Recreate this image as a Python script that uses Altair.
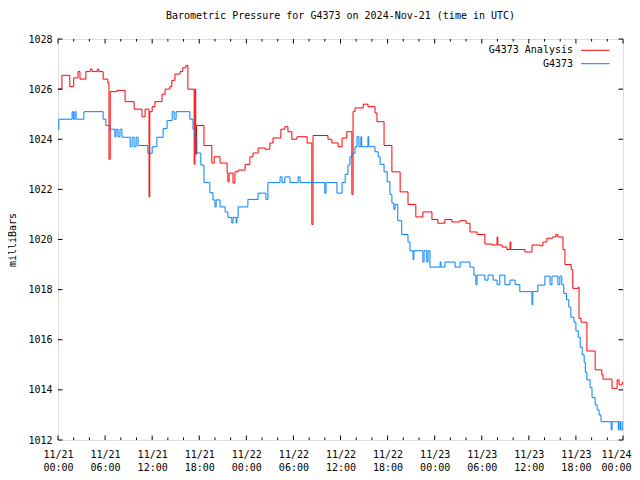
import altair as alt
import pandas as pd

TITLE = "Barometric Pressure for G4373 on 2024-Nov-21 (time in UTC)"
Y_TITLE = "milliBars"
SERIES = ["G4373 Analysis", "G4373"]
COLORS = ["#ff0000", "#0080ff"]
FONT = "DejaVu Sans Mono"

# hours since 2024-11-21 00:00 UTC and pressure (mbar), step series
analysis_hours = [
    0, 0.5, 1.5, 2.0, 2.55, 2.8, 3.55, 4.1, 4.35, 5.0,
    5.2, 5.75, 6.35, 6.5, 6.65, 7.5, 8.55, 9.7, 10.7, 11.1,
    11.6, 11.7, 12.0, 12.35, 13.25, 13.65, 14.25, 14.5, 14.9, 15.55,
    15.9, 16.3, 16.55, 17.35, 17.45, 17.55, 17.65, 18.6, 19.6, 19.9,
    20.65, 21.55, 21.65, 21.8, 22.3, 22.55, 22.95, 23.85, 24.45, 24.85,
    25.5, 26.4, 27.0, 27.4, 28.4, 28.9, 29.3, 29.8, 30.45, 31.75,
    32.35, 32.5, 34.4, 34.9, 35.7, 36.2, 36.8, 37.45, 37.6, 37.85,
    38.9, 39.5, 40.4, 40.65, 41.55, 42.55, 43.6, 44.6, 45.6, 46.5,
    47.65, 48.4, 49.3, 50.2, 51.2, 52.0, 52.5, 53.4, 54.4, 55.3,
    55.95, 56.05, 56.6, 57.2, 57.6, 57.7, 59.5, 60.4, 61.4, 61.8,
    62.3, 63.0, 63.45, 63.7, 64.35, 64.6, 65.4, 65.6, 66.3, 66.4,
    66.65, 67.4, 68.45, 69.3, 69.45, 70.6, 71.25, 71.5, 71.9, 72,
]
analysis_mbar = [
    1026.0, 1026.55, 1026.1, 1026.45, 1026.7, 1026.4, 1026.7, 1026.8, 1026.7, 1026.8,
    1026.7, 1026.4, 1026.25, 1023.2, 1025.9, 1025.95, 1025.5, 1025.2, 1024.9, 1025.2,
    1021.7, 1025.1, 1025.3, 1025.5, 1025.8, 1026.0, 1026.1, 1026.35, 1026.6, 1026.7,
    1026.85, 1026.95, 1026.0, 1023.0, 1026.0, 1023.4, 1024.55, 1023.75, 1023.05, 1023.3,
    1023.05, 1022.65, 1022.3, 1022.65, 1022.25, 1022.7, 1022.77, 1023.0, 1023.3, 1023.45,
    1023.65, 1023.6, 1023.85, 1024.05, 1024.4, 1024.5, 1024.3, 1024.0, 1024.1, 1023.85,
    1020.6, 1024.15, 1024.0, 1023.85, 1023.7, 1024.05, 1024.3, 1021.8, 1025.1, 1025.25,
    1025.4, 1025.3, 1025.05, 1024.7, 1023.75, 1022.7, 1021.9, 1021.4, 1020.9, 1021.1,
    1020.8, 1020.65, 1020.8, 1020.7, 1020.75, 1020.65, 1020.3, 1020.2, 1019.82, 1019.78,
    1020.1, 1019.78, 1019.7, 1019.6, 1019.9, 1019.6, 1019.5, 1019.78, 1019.75, 1019.9,
    1020.05, 1020.1, 1020.2, 1020.1, 1019.6, 1019.0, 1018.8, 1018.05, 1018.1, 1016.85,
    1016.7, 1015.55, 1014.8, 1014.6, 1014.43, 1014.06, 1014.4, 1014.2, 1014.3, 1014.3,
]

station_hours = [
    0, 0.1, 1.8, 1.95, 2.15, 2.3, 3.3, 5.75, 6.1, 6.6,
    7.25, 7.4, 7.65, 7.9, 8.15, 9.2, 9.45, 9.7, 9.95, 10.2,
    11.45, 12.0, 12.6, 13.4, 13.9, 14.55, 14.8, 15.05, 16.8, 17.2,
    17.45, 17.7, 18.2, 18.6, 19.35, 19.75, 20.0, 20.15, 20.65, 21.3,
    21.65, 22.15, 22.3, 22.7, 22.8, 22.95, 24.2, 25.5, 26.5, 26.75,
    28.3, 28.55, 28.9, 29.55, 30.6, 30.85, 34.0, 34.15, 35.55, 36.2,
    36.6, 36.95, 37.2, 37.45, 37.85, 38.1, 38.35, 38.6, 38.7, 39.5,
    39.6, 40.4, 40.8, 41.05, 41.55, 41.95, 42.3, 42.55, 42.8, 42.95,
    43.3, 43.8, 44.6, 44.85, 45.25, 45.35, 46.5, 46.65, 47.0, 47.15,
    47.4, 48.7, 48.8, 49.3, 50.6, 51.25, 52.5, 53.0, 53.25, 53.4,
    54.4, 54.8, 55.45, 55.95, 56.3, 56.95, 57.6, 58.25, 58.85, 60.4,
    60.5, 61.15, 62.05, 62.7, 62.95, 63.7, 63.95, 64.2, 64.45, 64.8,
    65.1, 65.35, 65.75, 66.0, 66.3, 66.55, 66.8, 67.05, 67.2, 67.4,
    67.8, 68.05, 68.45, 68.7, 68.95, 69.2, 70.5, 70.6, 71.4, 71.5,
    71.7, 71.9, 72,
]
station_mbar = [
    1024.4, 1024.8, 1025.1, 1024.8, 1025.1, 1024.8, 1025.1, 1024.8, 1024.55, 1024.4,
    1024.1, 1024.4, 1024.1, 1024.4, 1024.08, 1023.7, 1024.08, 1023.7, 1024.08, 1023.75,
    1023.44, 1023.7, 1024.08, 1024.43, 1024.75, 1025.1, 1024.8, 1025.1, 1024.8, 1024.4,
    1024.08, 1023.45, 1022.97, 1022.27, 1021.87, 1021.58, 1021.3, 1021.58, 1021.3, 1021.1,
    1020.88, 1020.66, 1020.88, 1020.66, 1020.88, 1021.3, 1021.6, 1021.85, 1021.6, 1022.27,
    1022.5, 1022.27, 1022.5, 1022.27, 1022.5, 1022.27, 1021.85, 1022.27, 1021.85, 1022.27,
    1022.6, 1022.97, 1023.3, 1023.44, 1023.7, 1024.1, 1023.7, 1024.1, 1023.7, 1024.1,
    1023.7, 1023.5, 1023.3, 1023.0, 1022.7, 1022.3, 1021.8, 1021.45, 1021.2, 1021.4,
    1020.75, 1020.2, 1019.9, 1019.55, 1019.2, 1019.55, 1019.1, 1019.55, 1019.1, 1019.55,
    1018.9, 1019.1, 1018.9, 1019.1, 1018.9, 1019.1, 1018.9, 1018.58, 1018.2, 1018.58,
    1018.38, 1018.58, 1018.38, 1018.2, 1018.58, 1018.2, 1018.38, 1018.2, 1017.92, 1017.4,
    1017.92, 1018.18, 1018.54, 1018.2, 1018.54, 1018.2, 1018.54, 1018.2, 1017.85, 1017.6,
    1017.3, 1016.9, 1016.7, 1016.35, 1016.1, 1015.7, 1015.4, 1015.1, 1014.7, 1014.4,
    1014.1, 1013.7, 1013.4, 1013.2, 1013.0, 1012.73, 1012.4, 1012.73, 1012.4, 1012.73,
    1012.4, 1012.73, 1012.73,
]

major_hours = [0, 6, 12, 18, 24, 30, 36, 42, 48, 54, 60, 66, 72]
minor_hours = [2, 4, 8, 10, 14, 16, 20, 22, 26, 28, 32, 34, 38, 40, 44, 46, 50, 52, 56, 58, 62, 64, 68, 70]
y_ticks = [1012, 1014, 1016, 1018, 1020, 1022, 1024, 1026, 1028]

assert len(analysis_hours) == len(analysis_mbar)
assert len(station_hours) == len(station_mbar)

W, H = 565, 401

df = pd.DataFrame({
    "h": analysis_hours + station_hours,
    "p": analysis_mbar + station_mbar,
    "s": [SERIES[0]] * len(analysis_hours) + [SERIES[1]] * len(station_hours),
})

x_scale = alt.Scale(domain=[0, 72], nice=False, zero=False)
y_scale = alt.Scale(domain=[1012, 1028], nice=False, zero=False)

label_expr = ("['11/' + (21 + floor(datum.value / 24)), "
              "(datum.value % 24 < 10 ? '0' : '') + (datum.value % 24) + ':00']")

x_axis = alt.Axis(
    values=major_hours, labelExpr=label_expr, ticks=False, domain=False, grid=False,
    title=None, labelFont=FONT, labelFontSize=10, labelColor="black",
    labelPadding=9, labelLineHeight=13.5, labelFlush=False, labelOverlap=False,
    labelOffset={"condition": {"test": "datum.value >= 72", "value": -7}, "value": 0})
y_axis = alt.Axis(
    values=y_ticks, format="d", ticks=False, domain=False, grid=False, title=Y_TITLE,
    labelFont=FONT, labelFontSize=10, labelColor="black", labelPadding=6,
    labelOverlap=False, titleFont=FONT, titleFontSize=10, titleFontWeight="normal",
    titleColor="black", titlePadding=10)

lines = alt.Chart(df).mark_line(interpolate="step-after", strokeWidth=1, clip=True).encode(
    x=alt.X("h:Q", scale=x_scale, axis=x_axis),
    y=alt.Y("p:Q", scale=y_scale, axis=y_axis),
    color=alt.Color("s:N", scale=alt.Scale(domain=SERIES, range=COLORS), legend=None),
    order=alt.Order("h:Q"),
)

major_df = pd.DataFrame({"h": major_hours})
minor_df = pd.DataFrame({"h": minor_hours})
ytick_df = pd.DataFrame({"p": y_ticks})


def xticks(data, length):
    top = alt.Chart(data).mark_rule(color="black", strokeWidth=1).encode(
        x=alt.X("h:Q", scale=x_scale, axis=x_axis), y=alt.value(0), y2=alt.value(length))
    bottom = alt.Chart(data).mark_rule(color="black", strokeWidth=1).encode(
        x=alt.X("h:Q", scale=x_scale, axis=x_axis), y=alt.value(H), y2=alt.value(H - length))
    return [top, bottom]


yleft = alt.Chart(ytick_df).mark_rule(color="black", strokeWidth=1).encode(
    y=alt.Y("p:Q", scale=y_scale, axis=y_axis), x=alt.value(0), x2=alt.value(4.5))
yright = alt.Chart(ytick_df).mark_rule(color="black", strokeWidth=1).encode(
    y=alt.Y("p:Q", scale=y_scale, axis=y_axis), x=alt.value(W), x2=alt.value(W - 4.5))

legend_layers = []
for i, (name, col) in enumerate(zip(SERIES, COLORS)):
    ly = 11.3 + 13.4 * i
    legend_layers.append(
        alt.Chart(pd.DataFrame({"name": [name]})).mark_text(
            align="right", baseline="middle", font=FONT, fontSize=10, color="black"
        ).encode(text="name:N", x=alt.value(515), y=alt.value(ly))
    )
    legend_layers.append(
        alt.Chart(pd.DataFrame({"name": [name]})).mark_rule(color=col, strokeWidth=1).encode(
            x=alt.value(523), x2=alt.value(551.5), y=alt.value(ly))
    )

chart = alt.layer(
    lines, *xticks(major_df, 4.5), *xticks(minor_df, 2.5), yleft, yright, *legend_layers
).properties(
    width=W, height=H,
    padding={"left": 50, "top": 31, "right": 9, "bottom": 32},
    autosize=alt.AutoSizeParams(type="none"),
    title=alt.TitleParams(TITLE, font=FONT, fontSize=10, fontWeight="normal", color="black",
                          anchor="middle", frame="group", offset=13),
).configure_view(stroke="black", strokeWidth=1).configure(background="white")

chart.save("out.html", embed_options={"renderer": "svg", "actions": False})
